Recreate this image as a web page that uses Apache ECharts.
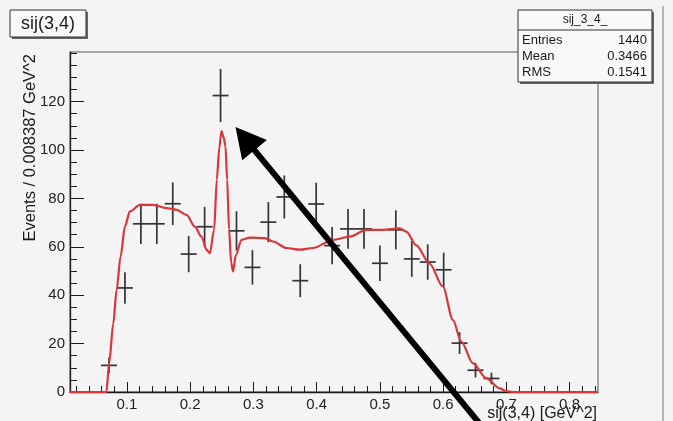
<!DOCTYPE html>
<html>
<head>
<meta charset="utf-8">
<title>sij(3,4)</title>
<script src="https://cdn.jsdelivr.net/npm/echarts@6/dist/echarts.min.js"></script>
<style>
  html, body { margin: 0; padding: 0; background: #f4f4f4; }
  #chart { width: 673px; height: 421px; }
</style>
</head>
<body>
<div id="chart"></div>
<script>
// histogram bins (centre, content, error)
const binX = [0.0717, 0.0969, 0.1221, 0.1473, 0.1725, 0.1977, 0.2229, 0.2481, 0.2733, 0.2985,
  0.3237, 0.3489, 0.3741, 0.3993, 0.4245, 0.4497, 0.4749, 0.5001, 0.5253, 0.5505,
  0.5757, 0.6009, 0.6261, 0.6513, 0.6765]
const binY = [11, 43, 69.5, 69.5, 77.8, 57, 68.3, 122.5, 66.6, 51.5,
  70.2, 80.6, 46, 77.7, 60.5, 67.4, 67.4, 53.2, 67, 55,
  53.7, 50.5, 20.2, 9, 5.6]
const binErr = [3.3, 6.5, 8.3, 8.3, 8.8, 7.5, 8.2, 11, 8.1, 7.1,
  8.3, 8.9, 6.8, 8.8, 7.7, 8.2, 8.2, 7.3, 8.1, 7.4,
  7.3, 7.1, 4.5, 3, 2.4]
const binHalfWidth = 0.0126

// fit curve samples
const fitX = [0.01, 0.0675, 0.072, 0.0784, 0.0837, 0.09, 0.0968, 0.1047, 0.1205, 0.1415,
  0.1627, 0.1785, 0.1943, 0.2074, 0.218, 0.2259, 0.2311, 0.2379, 0.2422, 0.2461,
  0.2496, 0.2532, 0.2559, 0.2585, 0.2616, 0.2648, 0.2679, 0.2722, 0.2812, 0.2943,
  0.318, 0.3311, 0.3523, 0.3733, 0.3943, 0.4259, 0.4523, 0.4787, 0.5049, 0.5313,
  0.5419, 0.5577, 0.5787, 0.5997, 0.6155, 0.6288, 0.6471, 0.6682, 0.6893, 0.6998,
  0.71, 0.845]
const fitY = [0, 0, 11.9, 28.3, 42.2, 56, 68.3, 74.6, 77.3, 77.3,
  76, 75.3, 73.2, 68.3, 64.2, 58.8, 57.3, 67, 87.8, 101,
  107.8, 105, 101.5, 87.8, 67, 53.5, 49.8, 56.5, 62.9, 63.8,
  63.6, 62.2, 59.5, 58.8, 59.5, 62.9, 64.2, 67, 67, 67.6,
  66.3, 60.6, 53, 43.6, 29.8, 20.8, 11.9, 5.7, 1.5, 0.4,
  0, 0]

const xMajorTicks = [0.1, 0.2, 0.3, 0.4, 0.5, 0.6, 0.7, 0.8]
const xMinorTicks = [0.02, 0.04, 0.06, 0.08, 0.12, 0.14, 0.16, 0.18, 0.22, 0.24, 0.26, 0.28,
  0.32, 0.34, 0.36, 0.38, 0.42, 0.44, 0.46, 0.48, 0.52, 0.54, 0.56, 0.58,
  0.62, 0.64, 0.66, 0.68, 0.72, 0.74, 0.76, 0.78, 0.82, 0.84]
const yMajorTicks = [0, 20, 40, 60, 80, 100, 120]
const yMinorTicks = [5, 10, 15, 25, 30, 35, 45, 50, 55, 65, 70, 75, 85, 90, 95,
  105, 110, 115, 125, 130, 135, 140]

const statsNames = ['Entries', 'Mean', 'RMS']
const statsValues = ['1440', '0.3466', '0.1541']

// annotation arrow, data coordinates (tail is below the axis)
const arrowFrom = [0.6734, -18]
const arrowTo = [0.2717, 109.5]

const font = 'Liberation Sans, Arial, sans-serif'
const ink = '#1a1a1a'

const chart = echarts.init(document.getElementById('chart'))

function renderCross(params, api) {
  const x = api.value(0)
  const y = api.value(1)
  const ex = api.value(2)
  const ey = api.value(3)
  const l = api.coord([x - ex, y])
  const r = api.coord([x + ex, y])
  const t = api.coord([x, y + ey])
  const b = api.coord([x, y - ey])
  const style = { stroke: '#333', lineWidth: 1.7 }
  return {
    type: 'group',
    children: [
      { type: 'line', shape: { x1: l[0], y1: l[1], x2: r[0], y2: r[1] }, style },
      { type: 'line', shape: { x1: t[0], y1: t[1], x2: b[0], y2: b[1] }, style }
    ]
  }
}

const xBase = { type: 'value', min: 0.01, max: 0.845, position: 'bottom', splitLine: { show: false } }
const yBase = { type: 'value', min: 0, max: 140.5, position: 'left', splitLine: { show: false } }

chart.setOption({
  animation: false,
  backgroundColor: '#f4f4f4',
  grid: {
    left: 70, right: 75, top: 52, bottom: 29,
    show: true, borderColor: '#555', borderWidth: 1, backgroundColor: '#f4f4f4',
    outerBoundsMode: 'none'
  },
  xAxis: [
    {
      ...xBase,
      axisLine: { show: true, onZero: false, lineStyle: { color: ink, width: 1.3 } },
      axisTick: { show: true, inside: true, length: 10, customValues: xMajorTicks, lineStyle: { color: ink } },
      axisLabel: {
        customValues: xMajorTicks, margin: 5, fontSize: 15, color: '#222', fontFamily: font,
        formatter: (v) => v.toFixed(1)
      }
    },
    {
      ...xBase,
      axisLine: { show: false },
      axisTick: { show: true, inside: true, length: 6, customValues: xMinorTicks, lineStyle: { color: ink } },
      axisLabel: { show: false }
    }
  ],
  yAxis: [
    {
      ...yBase,
      axisLine: { show: true, onZero: false, lineStyle: { color: ink, width: 1.3 } },
      axisTick: { show: true, inside: true, length: 14, customValues: yMajorTicks, lineStyle: { color: ink } },
      axisLabel: { customValues: yMajorTicks, margin: 5, fontSize: 15, color: '#222', fontFamily: font }
    },
    {
      ...yBase,
      axisLine: { show: false },
      axisTick: { show: true, inside: true, length: 7, customValues: yMinorTicks, lineStyle: { color: ink } },
      axisLabel: { show: false }
    }
  ],
  series: [
    {
      type: 'custom',
      renderItem: renderCross,
      xAxisIndex: 0,
      yAxisIndex: 0,
      encode: { x: 0, y: 1 },
      data: binX.map((x, i) => [x, binY[i], binHalfWidth, binErr[i]]),
      z: 2
    },
    {
      type: 'line',
      xAxisIndex: 0,
      yAxisIndex: 0,
      showSymbol: false,
      smooth: 0.3,
      smoothMonotone: 'x',
      lineStyle: { color: '#d8363a', width: 2.2 },
      data: fitX.map((x, i) => [x, fitY[i]]),
      z: 3
    }
  ]
})

function arrowGraphics() {
  const p0 = chart.convertToPixel({ xAxisIndex: 0, yAxisIndex: 0 }, arrowFrom)
  const p1 = chart.convertToPixel({ xAxisIndex: 0, yAxisIndex: 0 }, arrowTo)
  const dx = p1[0] - p0[0]
  const dy = p1[1] - p0[1]
  const len = Math.sqrt(dx * dx + dy * dy)
  const ux = dx / len
  const uy = dy / len
  const headLen = 30
  const headHalf = 16
  const bx = p1[0] - ux * headLen
  const by = p1[1] - uy * headLen
  return [
    {
      type: 'line', z: 100,
      shape: { x1: p0[0], y1: p0[1], x2: bx + ux * 4, y2: by + uy * 4 },
      style: { stroke: '#000', lineWidth: 6 }
    },
    {
      type: 'polygon', z: 100,
      shape: { points: [[p1[0], p1[1]], [bx - uy * headHalf, by + ux * headHalf], [bx + uy * headHalf, by - ux * headHalf]] },
      style: { fill: '#000' }
    }
  ]
}

const statsRows = statsNames.map((name, i) => [
  { type: 'text', z: 60, style: { text: name, x: 522, y: 40 + i * 16, verticalAlign: 'middle', fontSize: 13, fontFamily: font, fill: ink } },
  { type: 'text', z: 60, style: { text: statsValues[i], x: 647, y: 40 + i * 16, align: 'right', verticalAlign: 'middle', fontSize: 13, fontFamily: font, fill: ink } }
]).flat()

chart.setOption({
  graphic: [
    // pad edge
    { type: 'line', shape: { x1: 663, y1: 6, x2: 663, y2: 421 }, style: { stroke: '#777', lineWidth: 1 } },
    // title box
    { type: 'rect', z: 50, shape: { x: 12, y: 12, width: 76, height: 27 }, style: { fill: '#666' } },
    { type: 'rect', z: 51, shape: { x: 10, y: 10, width: 76, height: 27 }, style: { fill: '#f8f8f8', stroke: '#333', lineWidth: 1 } },
    { type: 'text', z: 52, style: { text: 'sij(3,4)', x: 48, y: 24, align: 'center', verticalAlign: 'middle', fontSize: 18, fontFamily: font, fill: ink } },
    // stats box
    { type: 'rect', z: 55, shape: { x: 520, y: 12, width: 134, height: 72 }, style: { fill: '#666' } },
    { type: 'rect', z: 56, shape: { x: 518, y: 10, width: 134, height: 72 }, style: { fill: '#f8f8f8', stroke: '#333', lineWidth: 1 } },
    { type: 'line', z: 57, shape: { x1: 518, y1: 30, x2: 652, y2: 30 }, style: { stroke: '#333', lineWidth: 1 } },
    { type: 'text', z: 60, style: { text: 'sij_3_4_', x: 585, y: 20, align: 'center', verticalAlign: 'middle', fontSize: 12, fontFamily: font, fill: ink } },
    ...statsRows,
    // axis titles
    {
      type: 'text', x: 30, y: 54, rotation: Math.PI / 2,
      style: { text: 'Events / 0.008387 GeV^2', align: 'right', verticalAlign: 'middle', fontSize: 16.5, fontFamily: font, fill: ink }
    },
    {
      type: 'text',
      style: { text: 'sij(3,4) [GeV^2]', x: 597, y: 414, align: 'right', verticalAlign: 'middle', fontSize: 16, fontFamily: font, fill: ink }
    },
    ...arrowGraphics()
  ]
})
</script>
</body>
</html>
